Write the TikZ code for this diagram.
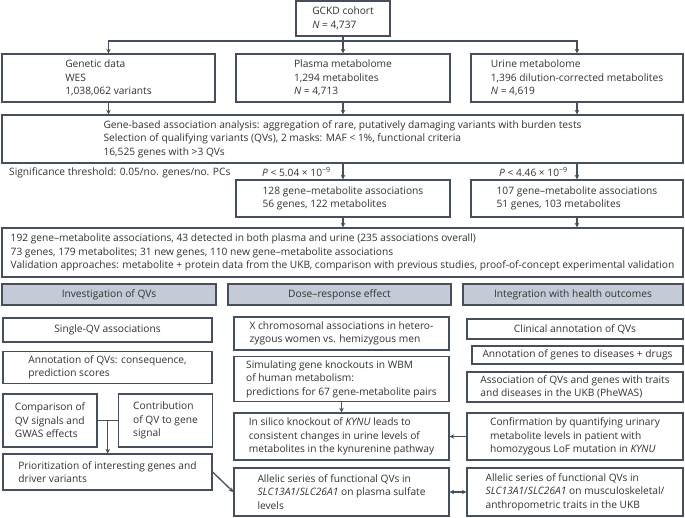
\documentclass[tikz,border=0pt]{standalone}
\usepackage{fontspec}
\setmainfont{Open Sans}
\usetikzlibrary{arrows.meta,calc}
\definecolor{bc}{RGB}{70,79,92}
\definecolor{hc}{RGB}{196,203,215}
\definecolor{tc}{RGB}{50,50,50}
\newcommand{\fs}{\fontsize{10.2}{13.6}\selectfont}
\newcommand{\expo}[1]{\textsuperscript{#1}}
\begin{document}
\begin{tikzpicture}[x=1pt,y=-1pt,
  box/.style={draw=bc, line width=1.3pt, inner sep=2pt, align=left, font=\fs, text=tc},
  hbox/.style={box, fill=hc},
  arr/.style={draw=bc, line width=1.3pt, -{Stealth[length=4.5pt,width=4.5pt]}},
  darr/.style={draw=bc, line width=1.3pt, {Stealth[length=4.5pt,width=4.5pt]}-{Stealth[length=4.5pt,width=4.5pt]}},
  ln/.style={draw=bc, line width=1.3pt},
  lbl/.style={font=\fs, text=tc, inner sep=0pt}]
\useasboundingbox (0,0) rectangle (685,518);
% top
\node[box, minimum width=94, minimum height=35] (gckd) at (343,18.5) {GCKD cohort\\\textit{N} = 4,737};
\node[box, minimum width=213, minimum height=48] (genetic) at (108.5,78) {Genetic data\\WES\\1,038,062 variants};
\node[box, minimum width=214, minimum height=48] (plasma) at (343,78) {Plasma metabolome\\1,294 metabolites\\\textit{N} = 4,713};
\node[box, minimum width=212, minimum height=48] (urine) at (577,78) {Urine metabolome\\1,396 dilution-corrected metabolites\\\textit{N} = 4,619};
\node[box, minimum width=681, minimum height=48] (gene) at (342.5,139) {Gene-based association analysis: aggregation of rare, putatively damaging variants with burden tests\\Selection of qualifying variants (QVs), 2 masks: MAF < 1\%, functional criteria\\16,525 genes with >3 QVs};
\node[lbl, anchor=west] (thr) at (9,173) {Significance threshold: 0.05/no. genes/no. PCs};
\node[lbl, anchor=east] (p1) at (331,172) {\textit{P} < 5.04 × 10\expo{−9}};
\node[lbl, anchor=east] (p2) at (568,172) {\textit{P} < 4.46 × 10\expo{−9}};
\node[box, minimum width=214, minimum height=37] (pres) at (343,198.5) {128 gene--metabolite associations\\56 genes, 122 metabolites};
\node[box, minimum width=212, minimum height=37] (ures) at (577,198.5) {107 gene--metabolite associations\\51 genes, 103 metabolites};
\node[box, minimum width=681, minimum height=49] (overall) at (342.5,252.5) {192 gene--metabolite associations, 43 detected in both plasma and urine (235 associations overall)\\73 genes, 179 metabolites; 31 new genes, 110 new gene--metabolite associations\\Validation approaches: metabolite + protein data from the UKB, comparison with previous studies, proof-of-concept experimental validation};
% headers
\node[hbox, minimum width=214, minimum height=21] (h1) at (109,294.5) {Investigation of QVs};
\node[hbox, minimum width=223, minimum height=21] (h2) at (339.5,294.5) {Dose--response effect};
\node[hbox, minimum width=220, minimum height=21] (h3) at (573,294.5) {Integration with health outcomes};
% left column
\node[box, minimum width=209, minimum height=24] (single) at (107.5,330) {Single-QV associations};
\node[box, minimum width=209, minimum height=32] (annot) at (107.5,367.5) {Annotation of QVs: consequence,\\prediction scores};
\node[box, minimum width=94, minimum height=53] (comp) at (50,420.5) {Comparison of\\QV signals and\\GWAS effects};
\node[box, minimum width=94, minimum height=53] (contrib) at (165.5,420.5) {Contribution\\of QV to gene\\signal};
\node[box, minimum width=209, minimum height=36] (prior) at (107.5,472) {Prioritization of interesting genes and\\driver variants};
% middle column
\node[box, minimum width=215, minimum height=33] (xchr) at (341.5,333.5) {X chromosomal associations in hetero-\\zygous women vs. hemizygous men};
\node[box, minimum width=215, minimum height=45] (sim) at (341.5,379) {Simulating gene knockouts in WBM\\of human metabolism:\\predictions for 67 gene-metabolite pairs};
\node[box, minimum width=215, minimum height=47] (insil) at (341.5,436.5) {In silico knockout of \textit{KYNU} leads to\\consistent changes in urine levels of\\metabolites in the kynurenine pathway};
\node[box, minimum width=215, minimum height=48] (all1) at (341.5,492) {Allelic series of functional QVs in\\\textit{SLC13A1}/\textit{SLC26A1} on plasma sulfate\\levels};
% right column
\node[box, minimum width=216, minimum height=20] (clin) at (575,329) {Clinical annotation of QVs};
\node[box, minimum width=211, minimum height=18] (anng) at (577.5,355) {Annotation of genes to diseases + drugs};
\node[box, minimum width=216, minimum height=30] (assoc) at (575,387) {Association of QVs and genes with traits\\and diseases in the UKB (PheWAS)};
\node[box, minimum width=216, minimum height=47] (conf) at (575,436.5) {Confirmation by quantifying urinary\\metabolite levels in patient with\\homozygous LoF mutation in \textit{KYNU}};
\node[box, minimum width=216, minimum height=48] (all2) at (575,492) {Allelic series of functional QVs in\\\textit{SLC13A1}/\textit{SLC26A1} on musculoskeletal/\\anthropometric traits in the UKB};
% connectors
\coordinate (hl) at (343,41);
\draw[ln] (gckd) -- (hl);
\draw[arr] (hl) -| (genetic.north);
\draw[arr] (hl) -- (plasma.north);
\draw[arr] (hl) -| (urine.north);
\draw[arr] (genetic.south) -- (genetic.south |- gene.north);
\draw[arr] (plasma.south) -- (plasma.south |- gene.north);
\draw[arr] (urine.south) -- (urine.south |- gene.north);
\draw[arr] (pres.north |- gene.south) -- (pres.north);
\draw[arr] (ures.north |- gene.south) -- (ures.north);
\draw[arr] (pres.south) -- (pres.south |- overall.north);
\draw[arr] (ures.south) -- (ures.south |- overall.north);
\draw[ln] (comp.east) -- (contrib.west);
\coordinate (cm) at ($(comp.east)!0.5!(contrib.west)$);
\draw[arr] (cm) -- (cm |- prior.north);
\draw[arr] (sim.south) -- (insil.north);
\draw[arr] (conf.west) -- (insil.east);
\draw[darr] (all1.east) -- (all2.west);
\draw[arr] (prior.east) -- (all1.west);
\end{tikzpicture}
\end{document}
